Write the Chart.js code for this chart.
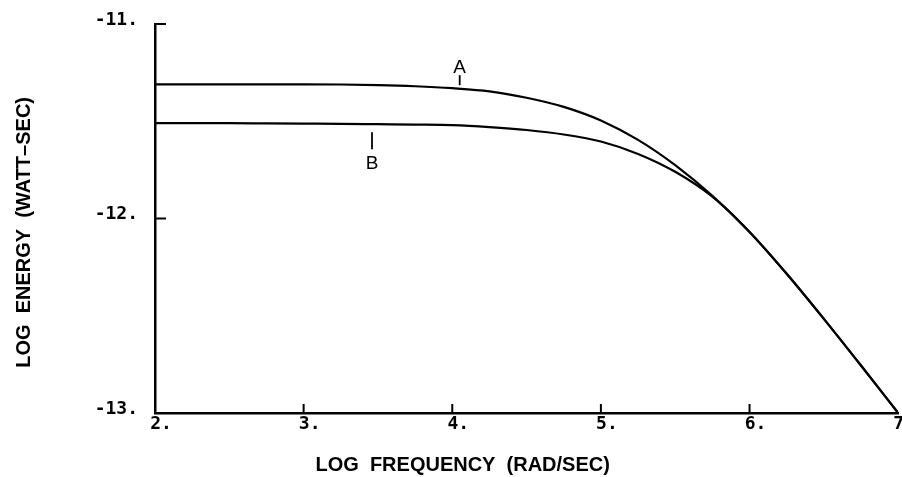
<!DOCTYPE html>
<html>
<head>
<meta charset="utf-8">
<script src="https://cdn.jsdelivr.net/npm/chart.js@4/dist/chart.umd.min.js"></script>
<style>
  html, body { margin: 0; padding: 0; background: #fff; }
  #wrap { width: 902px; height: 477px; }
</style>
</head>
<body>
<div id="wrap"><canvas id="grafico"></canvas></div>
<script>
// Datos (log frecuencia vs log energia)
var frecuencias = [2, 2.25, 2.5, 2.75, 3, 3.25, 3.5, 3.75, 4, 4.25, 4.5, 4.75, 5, 5.25, 5.5, 5.75, 6, 6.25, 6.5, 6.75, 7];
var energiaA = [-11.31, -11.31, -11.31, -11.31, -11.31, -11.311, -11.314, -11.32, -11.33, -11.346, -11.379, -11.426, -11.496, -11.596, -11.726, -11.884, -12.069, -12.284, -12.516, -12.756, -13.0];
var energiaB = [-11.51, -11.51, -11.51, -11.511, -11.512, -11.513, -11.515, -11.517, -11.52, -11.53, -11.545, -11.568, -11.604, -11.668, -11.76, -11.888, -12.069, -12.284, -12.516, -12.756, -13.0];
var ticksX = [2, 3, 4, 5, 6, 7];
var ticksY = [-13, -12, -11];
var etiquetas = [
    { texto: 'A', x: 4.05, y: -11.33, arriba: true },
    { texto: 'B', x: 3.46, y: -11.515, arriba: false }
];

function puntos(valores){
    return frecuencias.map(function(f, i){ return { x: f, y: valores[i] }; });
}

var fuenteTicks = { family: 'DejaVu Sans Mono', size: 18, weight: 'bold' };
var fuenteTitulo = { family: 'Liberation Sans', size: 20, weight: 'bold' };
var nb = '\u00a0';

//Plugin para las marcas de los ejes hacia dentro y las etiquetas A y B
var marcasPlugin = {
    id: 'marcas',
    afterDatasetsDraw: function(chart){
        var ctx = chart.ctx;
        var sx = chart.scales.x, sy = chart.scales.y;
        ctx.save();
        ctx.strokeStyle = '#000';
        ctx.lineWidth = 2;
        ticksX.slice(1, -1).forEach(function(v){
            var px = sx.getPixelForValue(v);
            ctx.beginPath();
            ctx.moveTo(px, sy.bottom);
            ctx.lineTo(px, sy.bottom - 9);
            ctx.stroke();
        });
        ticksY.slice(1).forEach(function(v){
            var py = sy.getPixelForValue(v);
            ctx.beginPath();
            ctx.moveTo(sx.left, py);
            ctx.lineTo(sx.left + 11, py);
            ctx.stroke();
        });
        ctx.lineWidth = 1.8;
        ctx.fillStyle = '#000';
        ctx.font = '19px "Liberation Sans"';
        ctx.textAlign = 'center';
        ctx.textBaseline = 'alphabetic';
        etiquetas.forEach(function(e){
            var px = sx.getPixelForValue(e.x);
            var py = sy.getPixelForValue(e.y);
            ctx.beginPath();
            if(e.arriba){
                ctx.moveTo(px, py - 3);
                ctx.lineTo(px, py - 13);
                ctx.stroke();
                ctx.fillText(e.texto, px, py - 15);
            }else{
                ctx.moveTo(px, py + 8);
                ctx.lineTo(px, py + 25);
                ctx.stroke();
                ctx.fillText(e.texto, px, py + 45);
            }
        });
        ctx.restore();
    }
};

var ctx = document.getElementById('grafico').getContext('2d');
var myChart = new Chart(ctx, {
    type: 'line',
    data: {
        datasets: [
            {
                label: 'A',
                data: puntos(energiaA),
                borderColor: '#000',
                borderWidth: 2.2,
                pointRadius: 0,
                fill: false,
                cubicInterpolationMode: 'monotone'
            },
            {
                label: 'B',
                data: puntos(energiaB),
                borderColor: '#000',
                borderWidth: 2.2,
                pointRadius: 0,
                fill: false,
                cubicInterpolationMode: 'monotone'
            }
        ]
    },
    options: {
        responsive: true,
        maintainAspectRatio: false,
        animation: false,
        layout: { padding: { top: 24, right: 2, left: 0, bottom: 0 } },
        plugins: {
            legend: { display: false },
            tooltip: { enabled: false }
        },
        scales: {
            x: {
                type: 'linear',
                min: 2,
                max: 7,
                afterFit: function(scale){ scale.height = 64; },
                afterBuildTicks: function(scale){
                    scale.ticks = ticksX.map(function(v){ return { value: v }; });
                },
                border: { display: true, color: '#000', width: 2.5 },
                grid: { display: false },
                ticks: {
                    color: '#000',
                    font: fuenteTicks,
                    padding: -7,
                    labelOffset: 6,
                    maxRotation: 0,
                    callback: function(v){ return v + '.'; }
                },
                title: {
                    display: true,
                    //espacios al final para desplazar el titulo a la izquierda como en el original
                    text: 'LOG  FREQUENCY  (RAD/SEC)' + nb.repeat(23),
                    color: '#000',
                    font: fuenteTitulo,
                    padding: { top: 13, bottom: 0 }
                }
            },
            y: {
                type: 'linear',
                min: -13,
                max: -11,
                afterFit: function(scale){ scale.width = 155; },
                afterBuildTicks: function(scale){
                    scale.ticks = ticksY.map(function(v){ return { value: v }; });
                },
                border: { display: true, color: '#000', width: 2.5 },
                grid: { display: false },
                ticks: {
                    color: '#000',
                    font: fuenteTicks,
                    padding: 9,
                    labelOffset: -4,
                    callback: function(v){ return v + '.'; }
                },
                title: {
                    display: true,
                    text: 'LOG  ENERGY  (WATT\u2013SEC)' + nb.repeat(5),
                    color: '#000',
                    font: fuenteTitulo,
                    padding: { top: 12, bottom: 0 }
                }
            }
        }
    },
    plugins: [marcasPlugin]
});
</script>
</body>
</html>
